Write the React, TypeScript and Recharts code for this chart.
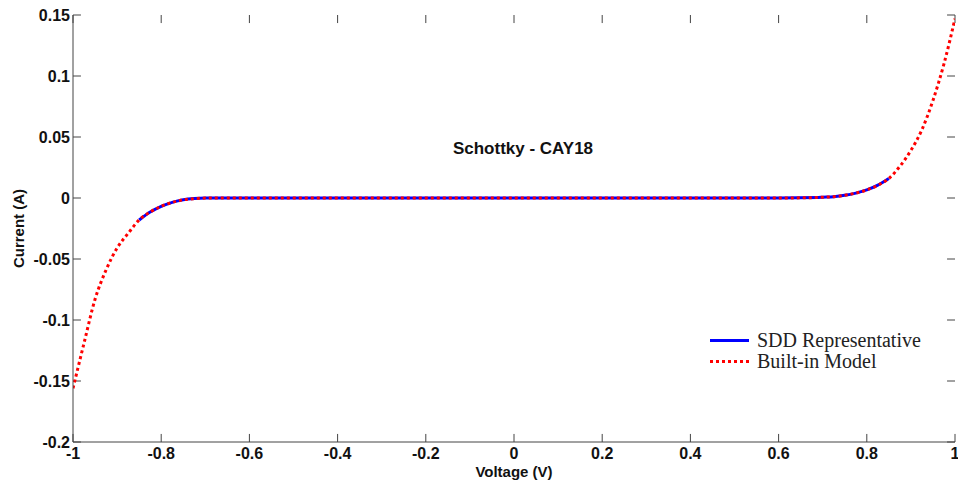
import React from 'react';
import { LineChart, Line, XAxis, YAxis, ReferenceLine } from 'recharts';

const voltage = [-1, -0.975, -0.95, -0.925, -0.9, -0.875, -0.85, -0.825, -0.8, -0.775, -0.75, -0.725, -0.7, -0.6, -0.4, -0.2, 0, 0.2, 0.4, 0.6, 0.69, 0.7, 0.725, 0.75, 0.775, 0.8, 0.825, 0.85, 0.875, 0.9, 0.925, 0.95, 0.975, 1];
const builtInModel = [-0.156, -0.119, -0.083, -0.059, -0.041, -0.029, -0.018, -0.0115, -0.0068, -0.0036, -0.0015, -0.0005, -0.0001, 0, 0, 0, 0, 0, 0, 0, 0.0004, 0.0006, 0.0011, 0.0022, 0.004, 0.0066, 0.0105, 0.016, 0.026, 0.039, 0.056, 0.08, 0.11, 0.147];
const sddRepresentative = [null, null, null, null, null, null, -0.018, -0.0115, -0.0068, -0.0036, -0.0015, -0.0005, -0.0001, 0, 0, 0, 0, 0, 0, 0, 0.0004, 0.0006, 0.0011, 0.0022, 0.004, 0.0066, 0.0105, 0.016, null, null, null, null, null, null];

const xTicks = [-1, -0.8, -0.6, -0.4, -0.2, 0, 0.2, 0.4, 0.6, 0.8, 1];
const yTicks = [-0.2, -0.15, -0.1, -0.05, 0, 0.05, 0.1, 0.15];

const title = 'Schottky - CAY18';
const xLabel = 'Voltage (V)';
const yLabel = 'Current (A)';
const seriesNames = ['SDD Representative', 'Built-in Model'];

const data = voltage.map((v, i) => ({ v, model: builtInModel[i], sdd: sddRepresentative[i] }));

const X_MIN = -1, X_MAX = 1, Y_MIN = -0.2, Y_MAX = 0.15;
// inward tick length expressed in data units (about 8 px)
const TICK_DY = 0.0066;
const TICK_DX = 0.018;

const FONT = 'Liberation Sans, Arial, sans-serif';
const tickFont = { fontFamily: FONT, fontWeight: 700, fontSize: 16, fill: '#111' };
const axisStroke = '#444';
const XM = 6;
const YM = 3;

const BottomTick = (p: any) => (
  <text x={p.x} y={p.y} dy="0.71em" textAnchor="middle" style={tickFont}>{String(p.payload.value)}</text>
);
const LeftTick = (p: any) => (
  <text x={p.x} y={p.y} dy="0.355em" textAnchor="end" style={tickFont}>{String(p.payload.value)}</text>
);

export default function App() {
  return (
    <div style={{ position: 'absolute', left: 0, top: 0, width: 958, height: 483, background: '#fff' }}>
      <LineChart width={958} height={483} data={data} margin={{ top: 15, right: 3, bottom: 0, left: 0 }}>
        <XAxis
          dataKey="v"
          type="number"
          domain={[X_MIN, X_MAX]}
          ticks={xTicks}
          allowDataOverflow
          height={41}
          tickSize={0}
          tickMargin={XM}
          tick={<BottomTick />}
          tickLine={false}
          axisLine={{ stroke: axisStroke }}
          interval={0}
          label={{ value: xLabel, position: 'insideBottom', offset: 6, style: { ...tickFont, fontSize: 15 } }}
        />
        <XAxis
          xAxisId="top"
          orientation="top"
          dataKey="v"
          type="number"
          domain={[X_MIN, X_MAX]}
          ticks={xTicks}
          height={0}
          tick={false}
          tickLine={false}
          axisLine={{ stroke: axisStroke }}
        />
        <YAxis
          type="number"
          domain={[Y_MIN, Y_MAX]}
          ticks={yTicks}
          allowDataOverflow
          width={73}
          tickSize={0}
          tickMargin={YM}
          tick={<LeftTick />}
          tickLine={false}
          axisLine={{ stroke: axisStroke }}
          interval={0}
          label={{ value: yLabel, angle: -90, position: 'insideLeft', offset: 19, style: { ...tickFont, fontSize: 15, textAnchor: 'middle' } }}
        />
        <YAxis
          yAxisId="right"
          orientation="right"
          type="number"
          domain={[Y_MIN, Y_MAX]}
          ticks={yTicks}
          width={0}
          tick={false}
          tickLine={false}
          axisLine={{ stroke: axisStroke }}
        />
        {xTicks.map((t) => (
          <ReferenceLine key={'b' + t} segment={[{ x: t, y: Y_MIN }, { x: t, y: Y_MIN + TICK_DY }]} stroke={axisStroke} ifOverflow="visible" />
        ))}
        {xTicks.map((t) => (
          <ReferenceLine key={'t' + t} segment={[{ x: t, y: Y_MAX }, { x: t, y: Y_MAX - TICK_DY }]} stroke={axisStroke} ifOverflow="visible" />
        ))}
        {yTicks.map((t) => (
          <ReferenceLine key={'l' + t} segment={[{ x: X_MIN, y: t }, { x: X_MIN + TICK_DX, y: t }]} stroke={axisStroke} ifOverflow="visible" />
        ))}
        {yTicks.map((t) => (
          <ReferenceLine key={'r' + t} segment={[{ x: X_MAX, y: t }, { x: X_MAX - TICK_DX, y: t }]} stroke={axisStroke} ifOverflow="visible" />
        ))}
        <Line dataKey="sdd" type="monotone" stroke="#0000ff" strokeWidth={3} dot={false} isAnimationActive={false} />
        <Line dataKey="model" type="monotone" stroke="#ff0000" strokeWidth={3} strokeDasharray="3 3" dot={false} isAnimationActive={false} />
      </LineChart>
      <div style={{ position: 'absolute', left: 0, width: 1046, top: 139, textAlign: 'center', fontFamily: FONT, fontWeight: 700, fontSize: 17, color: '#111', lineHeight: '20px' }}>
        {title}
      </div>
      <div style={{ position: 'absolute', left: 709, top: 330, fontFamily: 'Liberation Serif, Times New Roman, serif', fontSize: 20, color: '#222', lineHeight: '21px' }}>
        <div style={{ display: 'flex', alignItems: 'center', height: 21 }}>
          <svg width={48} height={21}><line x1={1} x2={40} y1={10.5} y2={10.5} stroke="#0000ff" strokeWidth={3} /></svg>
          <span>{seriesNames[0]}</span>
        </div>
        <div style={{ display: 'flex', alignItems: 'center', height: 21 }}>
          <svg width={48} height={21}><line x1={1} x2={40} y1={10.5} y2={10.5} stroke="#ff0000" strokeWidth={3} strokeDasharray="3 3" /></svg>
          <span>{seriesNames[1]}</span>
        </div>
      </div>
    </div>
  );
}
